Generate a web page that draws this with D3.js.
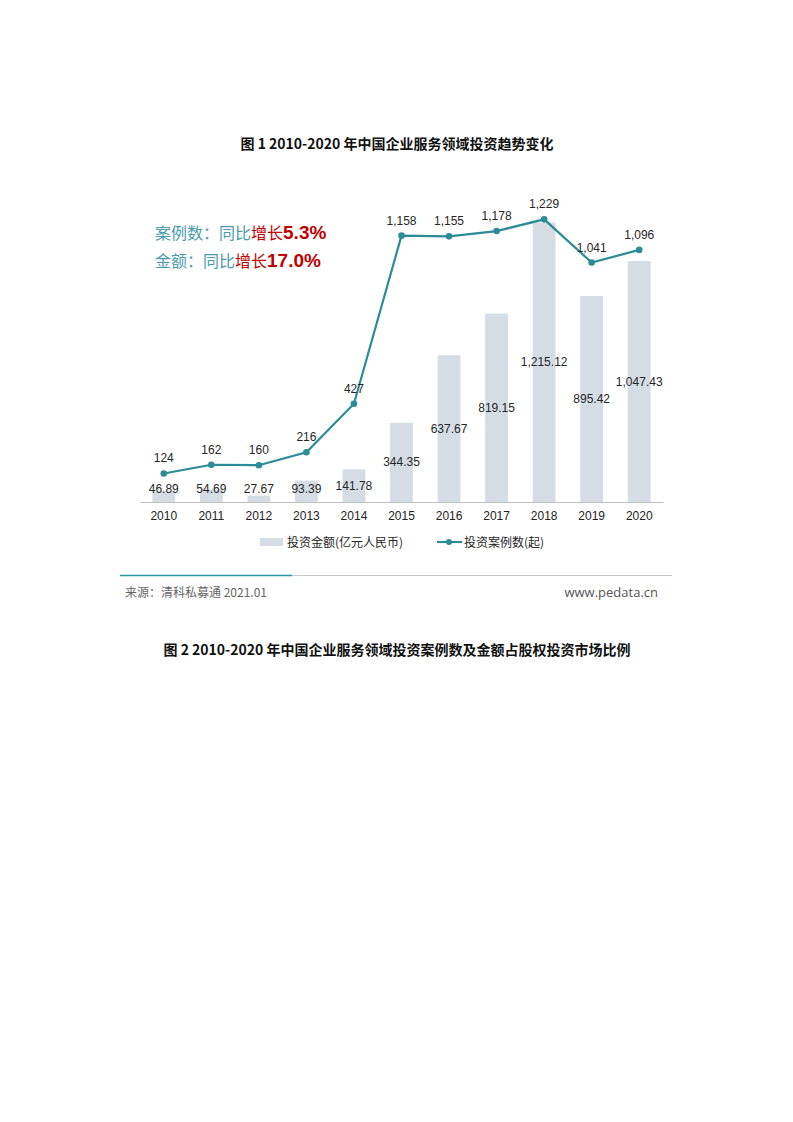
<!DOCTYPE html>
<html>
<head>
<meta charset="utf-8">
<script src="https://cdn.jsdelivr.net/npm/d3@7/dist/d3.min.js"></script>
<style>
  body { margin: 0; background: #fff; }
  svg { display: block; }
</style>
</head>
<body>
<div id="chart"></div>
<script>
var years = ["2010", "2011", "2012", "2013", "2014", "2015", "2016", "2017", "2018", "2019", "2020"];
var amounts = [46.89, 54.69, 27.67, 93.39, 141.78, 344.35, 637.67, 819.15, 1215.12, 895.42, 1047.43];
var cases = [124, 162, 160, 216, 427, 1158, 1155, 1178, 1229, 1041, 1096];
var legendNames = ["投资金额(亿元人民币)", "投资案例数(起)"];

var W = 793, H = 1122;
var cjk = "'Noto Sans CJK SC', 'Noto Sans', sans-serif";
var latin = "'Liberation Sans', Arial, sans-serif";
var teal = "#2b8c98";

var svg = d3.select("#chart").append("svg")
  .attr("width", W)
  .attr("height", H);

// titles
svg.append("text")
  .attr("x", 397).attr("y", 149)
  .attr("text-anchor", "middle")
  .style("font-family", cjk).style("font-weight", "bold").style("font-size", "14px")
  .attr("fill", "#111")
  .text("图 1  2010-2020 年中国企业服务领域投资趋势变化");

svg.append("text")
  .attr("x", 397).attr("y", 655)
  .attr("text-anchor", "middle")
  .style("font-family", cjk).style("font-weight", "bold").style("font-size", "14px")
  .attr("fill", "#111")
  .text("图 2  2010-2020 年中国企业服务领域投资案例数及金额占股权投资市场比例");

// scales
var x = d3.scaleBand().domain(years).range([140, 663]).paddingInner(0.52).paddingOuter(0.26);
var y = d3.scaleLinear().domain([0, 1400]).range([502, 180]);

var g = svg.append("g");

// bars
g.selectAll("rect.bar")
  .data(amounts)
  .enter().append("rect")
  .attr("class", "bar")
  .attr("x", function(d, i) { return x(years[i]); })
  .attr("width", x.bandwidth())
  .attr("y", function(d) { return y(d); })
  .attr("height", function(d) { return y(0) - y(d); })
  .attr("fill", "#d6dce4");

// x axis
var xAxis = g.append("g")
  .attr("transform", "translate(0," + y(0) + ")")
  .call(d3.axisBottom(x).tickSize(0).tickPadding(9));
xAxis.select(".domain").attr("stroke", "#bfbfbf").attr("stroke-width", 1.2);
xAxis.selectAll("text")
  .style("font-family", latin).style("font-size", "12px").attr("fill", "#222");

// bar labels
g.selectAll("text.blabel")
  .data(amounts)
  .enter().append("text")
  .attr("class", "blabel")
  .attr("x", function(d, i) { return x(years[i]) + x.bandwidth() / 2; })
  .attr("y", function(d) { return Math.min((y(d) + y(0)) / 2, y(0) - 13) + 4; })
  .attr("text-anchor", "middle")
  .style("font-family", latin).style("font-size", "12px").attr("fill", "#262626")
  .text(function(d) { return d3.format(",.2f")(d); });

// line
var line = d3.line()
  .x(function(d, i) { return x(years[i]) + x.bandwidth() / 2; })
  .y(function(d) { return y(d); });

g.append("path")
  .datum(cases)
  .attr("d", line)
  .attr("fill", "none")
  .attr("stroke", teal)
  .attr("stroke-width", 2.2);

g.selectAll("circle.pt")
  .data(cases)
  .enter().append("circle")
  .attr("class", "pt")
  .attr("cx", function(d, i) { return x(years[i]) + x.bandwidth() / 2; })
  .attr("cy", function(d) { return y(d); })
  .attr("r", 3.3)
  .attr("fill", teal);

g.selectAll("text.llabel")
  .data(cases)
  .enter().append("text")
  .attr("class", "llabel")
  .attr("x", function(d, i) { return x(years[i]) + x.bandwidth() / 2; })
  .attr("y", function(d) { return y(d) - 11; })
  .attr("text-anchor", "middle")
  .style("font-family", latin).style("font-size", "12px").attr("fill", "#262626")
  .text(function(d) { return d3.format(",")(d); });

// annotation
var notes = [
  { pre: "案例数：同比", mid: "增长", num: "5.3%", y: 239 },
  { pre: "金额：同比", mid: "增长", num: "17.0%", y: 267 }
];
notes.forEach(function(n) {
  var t = svg.append("text").attr("x", 155).attr("y", n.y)
    .style("font-family", cjk).style("font-size", "16px");
  t.append("tspan").attr("fill", "#4a9cab").text(n.pre);
  t.append("tspan").attr("fill", "#c00000").text(n.mid);
  t.append("tspan").attr("fill", "#c00000")
    .style("font-family", "'Liberation Sans Narrow', 'Liberation Sans', sans-serif")
    .style("font-weight", "bold").style("font-size", "19px")
    .text(n.num);
});

// legend
var lg = svg.append("g").attr("transform", "translate(0,542)");
lg.append("rect").attr("x", 260).attr("y", -4).attr("width", 23).attr("height", 8).attr("fill", "#d6dce4");
lg.append("text").attr("x", 287).attr("y", 5)
  .style("font-family", cjk).style("font-size", "12px").attr("fill", "#262626")
  .text(legendNames[0]);
lg.append("line").attr("x1", 437).attr("x2", 462).attr("y1", 0).attr("y2", 0)
  .attr("stroke", teal).attr("stroke-width", 2.2);
lg.append("circle").attr("cx", 449).attr("cy", 0).attr("r", 3).attr("fill", teal);
lg.append("text").attr("x", 464).attr("y", 5)
  .style("font-family", cjk).style("font-size", "12px").attr("fill", "#262626")
  .text(legendNames[1]);

// source bar
svg.append("line").attr("x1", 120).attr("x2", 292).attr("y1", 575.5).attr("y2", 575.5)
  .attr("stroke", "#2b96a4").attr("stroke-width", 1.5);
svg.append("line").attr("x1", 292).attr("x2", 672).attr("y1", 575.5).attr("y2", 575.5)
  .attr("stroke", "#c8c8c8").attr("stroke-width", 1.2);
svg.append("text").attr("x", 125).attr("y", 597)
  .style("font-family", cjk).style("font-size", "12px").attr("fill", "#666")
  .text("来源：清科私募通  2021.01");
svg.append("text").attr("x", 658).attr("y", 597).attr("text-anchor", "end")
  .style("font-family", "'Open Sans', 'Noto Sans', sans-serif").style("font-size", "13px").attr("fill", "#555")
  .text("www.pedata.cn");
</script>
</body>
</html>
